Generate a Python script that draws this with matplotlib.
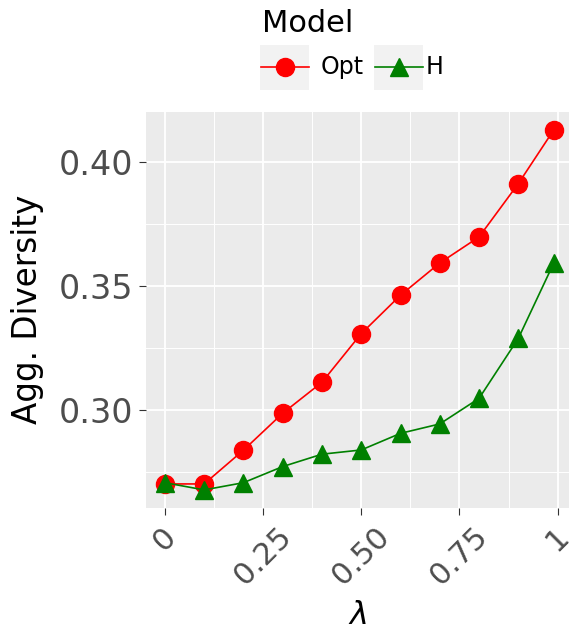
import matplotlib
matplotlib.use("Agg")
import matplotlib.pyplot as plt
from matplotlib.patches import Rectangle
from matplotlib.lines import Line2D

lam = [0, 0.1, 0.2, 0.3, 0.4, 0.5, 0.6, 0.7, 0.8, 0.9, 0.99]
opt = [0.2703, 0.2703, 0.2839, 0.2988, 0.3113, 0.3309, 0.3464, 0.3594, 0.3699, 0.3914, 0.4130]
h = [0.2708, 0.2679, 0.2708, 0.2773, 0.2823, 0.2840, 0.2907, 0.2945, 0.3048, 0.3290, 0.3593]
xticks = [0, 0.25, 0.5, 0.75, 1]
xticklabels = ["0", "0.25", "0.50", "0.75", "1"]
yticks = [0.30, 0.35, 0.40]
yticklabels = ["0.30", "0.35", "0.40"]

W, H = 569, 633
fig = plt.figure(figsize=(W / 100, H / 100), dpi=100)
ax = fig.add_axes([146 / W, 1 - 508 / H, (569 - 146) / W, (508 - 111.7) / H])
ax.set_facecolor("#EBEBEB")
for s in ax.spines.values():
    s.set_visible(False)

ax.plot(lam, opt, color="red", lw=1.2, marker="o", ms=13, zorder=3)
ax.plot(lam, h, color="green", lw=1.2, marker="^", ms=13, zorder=3)

ax.set_xlim(-0.048, 1.029)
ax.set_ylim(0.2606, 0.4204)
ax.set_xticks(xticks)
ax.set_xticklabels(xticklabels, rotation=45, ha="center", va="top")
ax.set_yticks(yticks)
ax.set_yticklabels(yticklabels)
ax.set_xticks([0.125, 0.375, 0.625, 0.875], minor=True)
ax.set_yticks([0.275, 0.325, 0.375], minor=True)
ax.grid(which="major", color="white", lw=1.3)
ax.grid(which="minor", color="white", lw=0.7)
ax.set_axisbelow(True)
ax.tick_params(which="major", length=5, color="#333333", labelcolor="#4D4D4D")
ax.tick_params(axis="y", labelsize=24, pad=4)
ax.tick_params(axis="x", labelsize=22, pad=5)
ax.tick_params(which="minor", length=0)
ax.set_xlabel(r"$\lambda$", fontsize=23, labelpad=7)
ax.set_ylabel("Agg. Diversity", fontsize=23.5, labelpad=11)

# legend (ggplot style, drawn by hand)
def px(x, y):
    return x / W, 1 - y / H

fig.text(*px(262, 24), "Model", fontsize=22, va="center", ha="left")
for x0, col, mk, lab in [(260, "red", "o", "Opt"), (374, "green", "^", "H")]:
    fig.add_artist(Rectangle(px(x0, 90), 49 / W, 45 / H, transform=fig.transFigure,
                             facecolor="#F2F2F2", edgecolor="none"))
    fig.add_artist(Line2D([px(x0 + 1, 0)[0], px(x0 + 49, 0)[0]], [px(0, 67)[1]] * 2,
                          transform=fig.transFigure, color=col, lw=1.2))
    fig.add_artist(Line2D([px(x0 + 24.5, 0)[0]], [px(0, 67)[1]], transform=fig.transFigure,
                          color=col, marker=mk, ms=13, ls="none"))
    fig.text(*px(x0 + 61 if lab == "Opt" else x0 + 52, 67), lab, fontsize=17, va="center", ha="left")

fig.savefig("out.png", dpi=100)
